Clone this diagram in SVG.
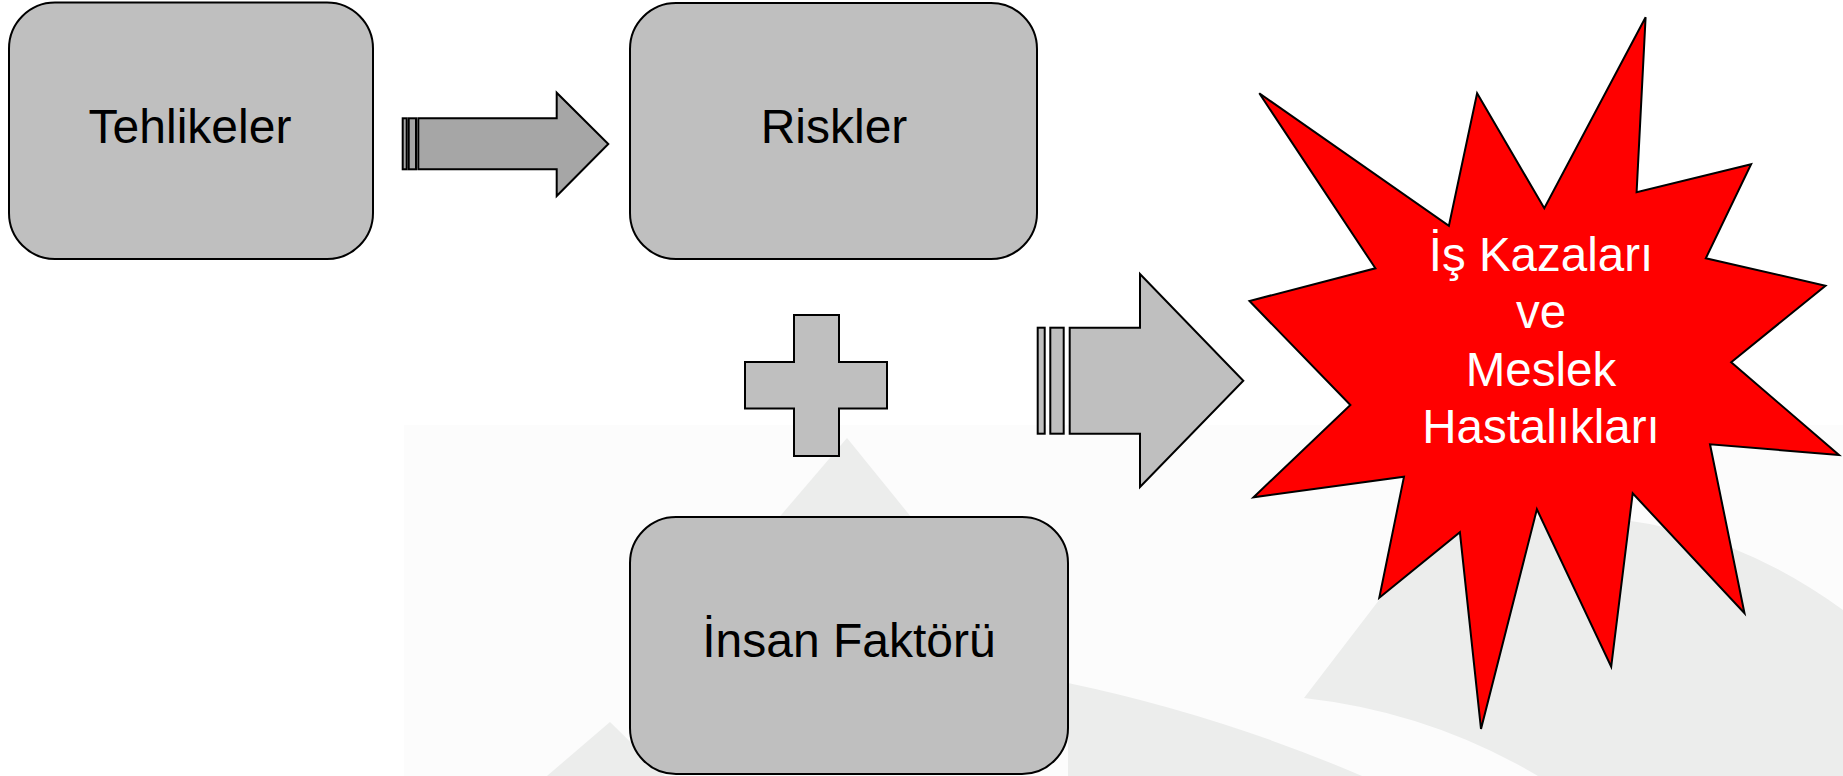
<svg xmlns="http://www.w3.org/2000/svg" width="1843" height="776" viewBox="0 0 1843 776">
<style>
.box{fill:#bfbfbf;stroke:#000;stroke-width:2}
.shape{stroke:#000;stroke-width:2;stroke-linejoin:miter}
.lbl{font-family:"Liberation Sans",Arial,sans-serif;font-size:48px;text-anchor:middle;fill:#000}
.wlbl{font-family:"Liberation Sans",Arial,sans-serif;font-size:47.5px;text-anchor:middle;fill:#fff}
.wm{fill:#ecedec}
</style>
<rect x="0" y="0" width="1843" height="776" fill="#fff"/>
<g id="background">
<rect x="404" y="425" width="1439" height="351" fill="#fcfcfc"/>
<polygon class="wm" points="847,438 770,528 920,528"/>
<polygon class="wm" points="610,722 547,776 665,776"/>
<path class="wm" d="M1068,683 Q1220,715 1362,776 L1068,776 Z"/>
<path class="wm" d="M1304,698 L1425,540 Q1650,470 1843,610 L1843,776 L1538,776 Q1430,712 1304,698 Z"/>
</g>
<g id="node-tehlikeler">
<rect class="box" x="9" y="2.5" width="364" height="256.5" rx="46" ry="46"/>
<text class="lbl" x="190" y="143">Tehlikeler</text>
</g>
<g id="node-riskler">
<rect class="box" x="630" y="3" width="407" height="256" rx="46" ry="46"/>
<text class="lbl" x="834" y="143">Riskler</text>
</g>
<g id="node-insan">
<rect class="box" x="630" y="517" width="438" height="257" rx="46" ry="46"/>
<text class="lbl" x="849" y="657">İnsan Faktörü</text>
</g>
<g id="node-plus">
<polygon class="shape" fill="#bfbfbf" points="794,315 839,315 839,362 887,362 887,408.5 839,408.5 839,456 794,456 794,408.5 745,408.5 745,362 794,362"/>
</g>
<g id="node-kaza">
<polygon class="shape" fill="#ff0000" points="1645.6,17.3 1636.6,192.3 1751.1,164.3 1705.8,258.3 1825.5,285.7 1731.2,362.3 1839,455 1710,444.3 1744.5,613.3 1632.7,493.3 1611.2,666.7 1536.9,509.3 1481,729 1459.9,532.3 1379.3,597.7 1404,476.7 1253.5,497.3 1350.4,405 1249.5,301 1375.4,268.3 1259.3,93.3 1448.9,225.7 1477.1,93.3 1544.3,208.3"/>
<text class="wlbl" x="1541" y="271">İş Kazaları</text>
<text class="wlbl" x="1541" y="328">ve</text>
<text class="wlbl" x="1541" y="386">Meslek</text>
<text class="wlbl" x="1541" y="443">Hastalıkları</text>
</g>
<g id="connectors">
<g id="arrow-1" fill="#a6a6a6">
<rect class="shape" x="402.7" y="118.3" width="4" height="51"/>
<rect class="shape" x="408.7" y="118.3" width="7.3" height="51"/>
<polygon class="shape" points="418.3,118.3 556.7,118.3 556.7,92.7 608.3,144 556.7,196 556.7,169.3 418.3,169.3"/>
</g>
<g id="arrow-2" fill="#bfbfbf">
<rect class="shape" x="1037.7" y="327.7" width="7" height="106"/>
<rect class="shape" x="1050.3" y="327.7" width="13.4" height="106"/>
<polygon class="shape" points="1069.7,327.7 1140,327.7 1140,274 1243.3,380.7 1140,487 1140,433.7 1069.7,433.7"/>
</g>
</g>
</svg>
